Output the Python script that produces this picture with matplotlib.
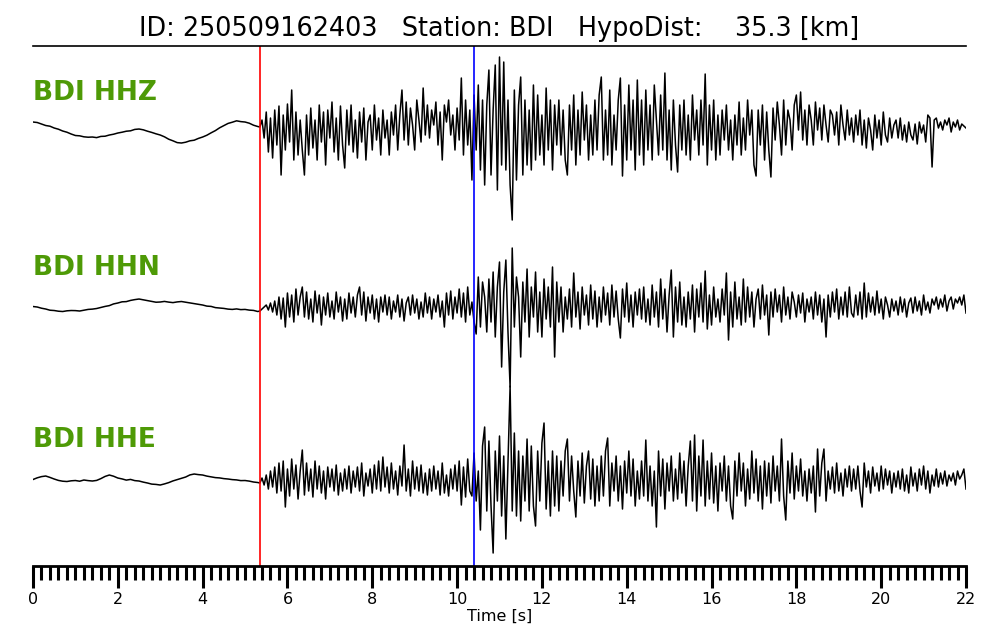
import numpy as np
import matplotlib
matplotlib.use("Agg")
import matplotlib.pyplot as plt
from matplotlib.ticker import MultipleLocator

event_id = "250509162403"
station = "BDI"
hypo_dist = 35.3
channels = ["HHZ", "HHN", "HHE"]
p_pick = 5.35
s_pick = 10.40

# pre-event part, one value every 0.1 s from 0.0 to 5.3 s (amplitude, px-like units)
hhz_pre = [8, 7.5, 6, 4.5, 3.8, 2, 0.8, -1, -2.2, -4, -5.5, -5.8, -6.8, -7.2, -7, -7.6, -6.4, -6.2, -5, -4.2,
           -3, -2.2, -1.2, -0.8, 0.6, 1, 0.2, -1.2, -2.4, -3.8, -5, -6.8, -9.2, -10.8, -12.6, -13, -12.2, -10.8, -10.2, -8.4,
           -7, -5.2, -2.8, -0.6, 2.2, 4.4, 6.6, 7.8, 9.2, 8.4, 8, 6.8, 4.8, 3.5]
hhn_pre = [0.5, 0, -1.2, -2, -3.2, -3.5, -4.2, -4.5, -3.8, -3.5, -3.6, -4, -3.2, -2.4, -2.1, -1.5, -0.4, 0.6, 1.4, 3.1,
           4, 5.2, 5.4, 6.6, 7.4, 8, 7.2, 6.4, 5.6, 4.8, 5, 5.6, 4.9, 4.4, 5.1, 5.5, 4.8, 4.1, 3.4, 2.6,
           2, 0.9, 0.6, -0.6, -1, -1.4, -2.1, -2.4, -1.9, -2.6, -2.4, -3.1, -3.4, -4.5]
hhe_pre = [1.5, 3.2, 4.4, 5, 3.6, 2, 0.6, -0.2, -0.5, 0.2, 0.5, -0.2, 1, 0.4, 0, 0.6, 2.4, 4.6, 6, 4.8,
           3, 2.1, 0.9, 1.6, 0.4, 0, -1.1, -2, -3.1, -3.4, -4, -2.9, -1.6, 0.1, 1.4, 2.6, 4, 6.1, 7, 6.4,
           6, 4.9, 4.1, 3.4, 3.1, 2.4, 2, 1.4, 1.1, 0.4, 0.5, -0.1, -1, -1.5]

# after the P pick, one value every 0.05 s from 5.35 to 22.0 s
hhz_post = [3, 10, -8, 18, -22, 12, -28, 20, -15, 24, -45, 15, -20, 26, -12, 40, -30, 18, -25, 10,
            -20, -45, 15, -25, 22, -18, 10, -30, 25, -12, 18, -35, 20, -8, 28, -22, 12, -30, 24, -15,
            -38, 20, -15, 25, -22, 10, -28, 18, -12, 22, -30, 8, 15, -20, 25, -10, 12, -25, 20, -8,
            10, -25, 18, -5, 25, -20, 15, 40, -10, 28, -15, 22, 5, -20, 30, 10, -12, 42, -5, 25,
            -8, 20, 5, 28, -15, 18, -30, 25, 8, 30, -5, 15, -20, 22, -10, 52, -25, 30, -15, 20,
            -50, 35, -20, 45, -40, 30, -55, 25, 60, -45, 20, 65, -60, 73, -35, 68, -40, 30, -55, -90,
            40, -50, 25, 53, -45, 30, -35, 20, -40, 45, -30, 35, -25, 15, -35, 42, -20, 30, -40, 25,
            -15, 30, -25, 20, -30, -45, 25, -20, 35, -35, 20, -25, 38, -10, 25, -30, 15, -25, 30, -20,
            35, 53, -30, 20, -25, 40, -35, 15, -20, 30, 52, -46, 25, -30, 45, -20, 30, -40, 50, -25,
            30, -35, 40, -20, 25, -30, 45, 10, -25, 35, -20, 57, -30, 20, -40, 30, -15, -42, 25, -20,
            30, -25, 15, -30, 35, -10, 20, -25, 30, -15, 56, -35, 25, -20, 30, -30, 15, -25, 20, -10,
            25, -20, 10, -30, 15, -15, 28, -25, 12, -20, 30, -5, 20, -35, -46, 20, -15, 25, -30, 18,
            -20, -47, 22, -10, 28, 5, -25, 30, -15, 20, 10, -20, 25, 35, 0, 38, -10, 20, -15, 25,
            10, -15, 28, 0, 22, -10, 25, 5, -12, 20, 15, -5, 18, -15, 25, 5, -10, 20, -5, 12,
            -12, 15, -5, 20, -15, 10, -18, 12, 0, -20, 15, -8, 10, -15, 18, -5, -12, 12, -8, 5,
            10, -8, 12, -10, 5, -12, 8, -5, -10, 6, -14, 8, -3, 5, -12, 15, 12, -37, 10, 12,
            2, 8, 0, 10, 5, 12, -2, 8, 3, 10, 0, 6, 4, 2]
hhn_post = [-4, -2, 0, 2, -3, 4, -5, 6, -8, 10, -12, 9, -20, 14, -10, 12, -15, 18, -8, 10,
            20, -10, 15, -12, 8, -15, 16, -6, 12, -18, 10, -8, 14, -10, 6, -12, 15, -5, 10, -14,
            8, -12, 14, -6, 10, -10, 12, 20, -8, 15, -14, 10, -6, 12, -12, 8, -15, 10, -5, 12,
            -8, 10, -12, 6, -5, 12, -10, 8, -14, 4, 10, -8, 12, -6, 8, -12, 5, -10, 14, -6,
            10, -12, 8, -5, 12, -10, 6, -20, 14, -8, 16, -12, 10, -6, 18, -10, 14, -15, 20, -8,
            5, -15, -27, 30, -20, 25, 10, -25, 28, -15, 35, -30, 20, 45, -60, 15, 47, -25, -80, 59,
            -20, 30, 10, -50, 25, -15, 38, -30, 20, -10, 35, -25, 15, -30, 28, -12, 20, -20, 40, -50,
            25, -15, 20, -25, 10, -12, 18, -20, 34, -10, 15, -22, 20, -8, 12, -18, 22, -12, 16, -20,
            10, -15, 20, -8, 14, -18, 22, -10, 16, -12, -31, 18, -10, 24, -15, 12, -20, 15, -8, 18,
            -12, 20, -15, 8, -18, 22, -10, 15, -20, 28, -12, 18, -25, 12, 37, -30, 20, -15, 25, -18,
            10, -20, 15, -12, 22, -25, 18, -10, 24, -15, 36, -22, 12, -18, 20, -10, 8, -15, 18, -8,
            34, -33, 15, -20, 25, -12, 10, -18, 28, -15, 20, -10, 15, -20, 8, 18, -12, 22, -8, 12,
            -28, 15, -10, 18, -5, 12, -15, 20, -8, 10, -12, 15, 5, -10, 12, -6, 14, -15, 8, -5,
            10, -12, 15, -8, 12, -15, 8, -30, 12, -10, 15, -5, 18, -12, 10, -8, 15, -10, 20, -6,
            -10, 12, -8, 15, -12, 24, -10, 14, -5, 10, -8, 16, -6, 8, -12, 10, 2, -10, 8, -4,
            6, -8, 10, -5, 8, -10, 4, 9, -6, 10, -4, 6, -8, 12, -3, 5, -6, 8, 2, 10,
            -2, 8, 0, 12, -4, 6, 10, -2, 8, 4, 10, 2, 12, -6]
hhe_post = [-2, 3, -4, 6, -8, 10, -6, 14, -12, 18, -10, 20, -26, 12, -15, 22, -8, 16, -18, 10,
            31, -14, 18, -10, 12, -16, 20, -8, 15, -12, 10, -18, 14, -6, 12, -10, 16, -14, 8, -10,
            12, -8, 15, -12, 10, -6, 14, -10, 18, -15, 8, -5, 12, -12, 16, -8, 20, -10, 24, -6,
            14, -12, 18, -8, 10, -14, 15, -5, 36, -10, 12, -15, 20, -8, 14, -10, 16, -12, 8, -14,
            12, -10, 15, -8, 10, -14, 18, -12, 6, -15, 12, -8, 16, -10, 20, -24, 14, -16, 22, -10,
            -15, 28, -20, 10, -49, 35, 54, -30, 40, -25, -72, 30, -20, 45, -35, 25, -58, 20, 95, -30,
            48, -35, 30, -40, 25, -20, 42, -30, 35, -25, -45, 30, -20, 38, 58, -28, 20, -35, 30, -25,
            25, -30, 20, -15, 30, 42, -20, 25, -10, -36, 20, -15, 28, -22, 15, 30, -18, 22, -25, 15,
            -20, 25, -15, 30, 43, -25, 18, -10, 25, -20, 15, -28, 20, -12, 30, -15, 22, -25, 10, -18,
            20, -15, 41, -20, 15, -25, 10, -46, 30, -15, 22, -28, 18, -10, 25, -20, 12, -18, 28, -12,
            20, -25, 15, 40, -20, 46, -30, 25, -15, 41, -25, 20, -18, 28, -22, 15, -30, 18, -10, 25,
            -20, 15, -25, -38, 20, -15, 28, -10, 18, -25, 12, -18, 30, -12, 22, -20, 15, -28, 20, -15,
            18, -22, 25, -10, 15, -20, 42, -15, -39, 20, -12, 28, -18, 15, -10, 22, -15, 10, -20, 12,
            -12, 15, -31, 32, -15, 18, 32, -20, 10, -8, 14, -12, 18, -10, 8, -15, 12, -6, 15, -10,
            12, -8, 15, -10, -26, 18, -6, 10, -12, 14, -5, 8, -10, 15, -8, 12, -4, 10, -12, 8,
            -6, 10, -8, 12, -10, 6, -12, 14, -5, 8, -10, 12, -4, 15, -8, 10, -12, 6, -5, 12,
            -6, 8, -3, 10, -5, 6, 0, 8, -4, 10, 2, 6, 12, -8]

traces = {"HHZ": (hhz_pre, hhz_post), "HHN": (hhn_pre, hhn_post), "HHE": (hhe_pre, hhe_post)}
# vertical position of each trace and its label inside the panel
offsets = {"HHZ": 436, "HHN": 259, "HHE": 85}
label_y = {"HHZ": 466, "HHN": 291, "HHE": 119}

fig = plt.figure(figsize=(10, 6.4), dpi=100)
ax = fig.add_axes([0.033, 0.1156, 0.933, 0.8125])

for ch in channels:
    pre, post = traces[ch]
    t = np.concatenate([np.arange(len(pre)) * 0.1, p_pick + np.arange(len(post)) * 0.05])
    y = np.concatenate([pre, post]) + offsets[ch]
    ax.plot(t, y, color="black", lw=1.1)
    ax.text(0, label_y[ch], f"{station} {ch}", color="#4e9a06", fontsize=19,
            fontweight="bold", ha="left", va="baseline")

ax.axvline(p_pick, color="red", lw=1.2)
ax.axvline(s_pick, color="blue", lw=1.2)

ax.set_xlim(0, 22)
ax.set_ylim(0, 520)
ax.spines["left"].set_visible(False)
ax.spines["right"].set_visible(False)
ax.spines["top"].set_linewidth(1.2)
ax.spines["bottom"].set_linewidth(2)
ax.set_yticks([])
ax.xaxis.set_major_locator(MultipleLocator(2))
ax.xaxis.set_minor_locator(MultipleLocator(0.2))
ax.tick_params(axis="x", which="major", length=16, width=2.2, labelsize=11.5, pad=3)
ax.tick_params(axis="x", which="minor", length=10, width=2.2)
ax.set_xlabel("Time [s]", fontsize=11.5, labelpad=1)
ax.set_title(f"ID: {event_id}   Station: {station}   HypoDist:    {hypo_dist} [km]",
             fontsize=18.4, pad=7)

fig.savefig("out.png", dpi=100)
